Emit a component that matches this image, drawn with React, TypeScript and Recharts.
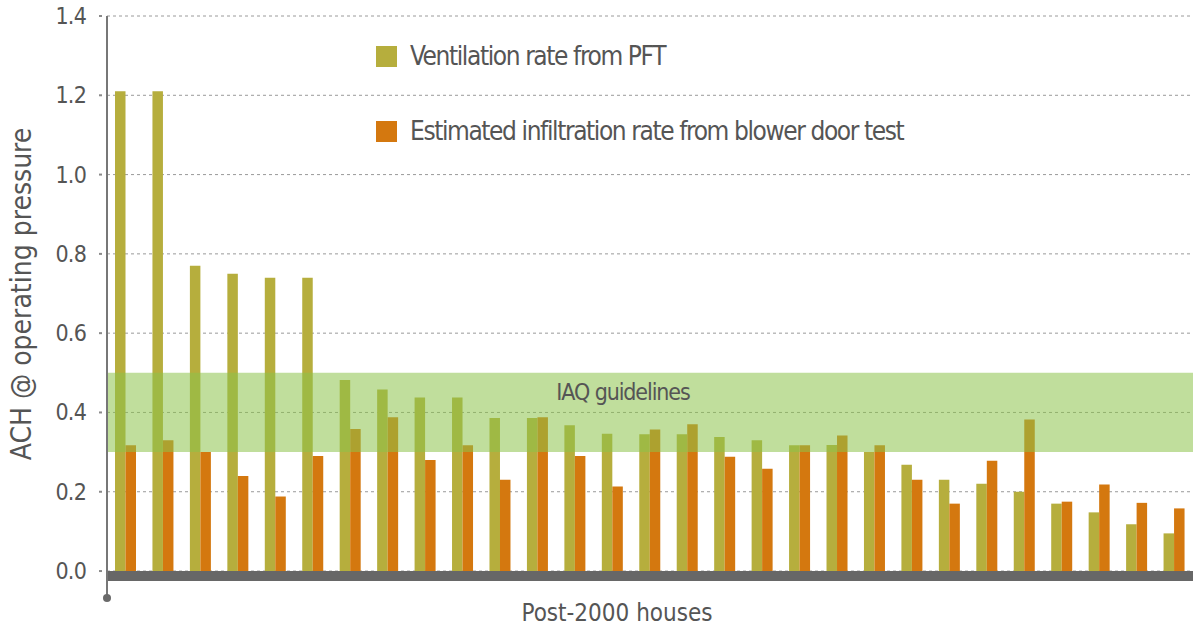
import React from 'react';
import { BarChart, Bar, XAxis, YAxis, CartesianGrid, ReferenceArea, Legend } from 'recharts';

const houses = Array.from({ length: 29 }, (_, i) => `House ${i + 1}`);
const pftVentilation = [1.21, 1.21, 0.77, 0.75, 0.74, 0.74, 0.482, 0.458, 0.438, 0.438, 0.386, 0.386, 0.368, 0.346, 0.345, 0.345, 0.338, 0.33, 0.317, 0.318, 0.3, 0.268, 0.23, 0.22, 0.2, 0.17, 0.148, 0.118, 0.095];
const blowerDoorInfiltration = [0.317, 0.33, 0.3, 0.24, 0.188, 0.29, 0.358, 0.388, 0.28, 0.317, 0.23, 0.388, 0.29, 0.213, 0.357, 0.37, 0.288, 0.258, 0.317, 0.342, 0.317, 0.23, 0.17, 0.278, 0.382, 0.175, 0.218, 0.172, 0.158];
const yTicks = [0, 0.2, 0.4, 0.6, 0.8, 1.0, 1.2, 1.4];
const iaqLow = 0.3;
const iaqHigh = 0.5;
const seriesOrder = ['pft', 'blower'];

const data = houses.map((h, i) => ({ house: h, pft: pftVentilation[i], blower: blowerDoorInfiltration[i] }));

const FONT = "'DejaVu Sans', sans-serif";
const TXT_STYLE: React.CSSProperties = { fontFamily: FONT, fontStretch: 'condensed' };
const GREEN = '#b6ae3d';
const ORANGE = '#d4780f';
const TEXT = '#555555';

const YTick = (props: any) => {
  const { x, y, payload } = props;
  return (
    <g>
      <line x1={x - 8} x2={x - 5} y1={y} y2={y} stroke="#8a8a8a" strokeWidth={2} />
      <text x={x - 21} y={y} dy={8} textAnchor="end" fill={TEXT} fontSize={23} letterSpacing={-0.8} style={TXT_STYLE}>
        {Number(payload.value).toFixed(1)}
      </text>
    </g>
  );
};

const YLabel = (props: any) => {
  const vb = props.viewBox || {};
  const cx = 21;
  const cy = 294;
  return (
    <g>
      <circle cx={vb.x + vb.width} cy={vb.y + vb.height} r={4} fill="#6a6a6a" />
      <text x={cx} y={cy} transform={`rotate(-90 ${cx} ${cy})`} textAnchor="middle" dominantBaseline="central" fill={TEXT} fontSize={28} style={TXT_STYLE}>
        ACH @ operating pressure
      </text>
    </g>
  );
};

const XLabel = (props: any) => {
  const vb = props.viewBox || {};
  return (
    <text x={vb.x + vb.width / 2 - 33} y={vb.y + 15} textAnchor="middle" dominantBaseline="central" fill={TEXT} fontSize={24} style={TXT_STYLE}>
      Post-2000 houses
    </text>
  );
};

const BandLabel = (props: any) => {
  const vb = props.viewBox || {};
  return (
    <text x={vb.x + vb.width / 2 - 27} y={vb.y + 19} textAnchor="middle" dominantBaseline="central" fill={TEXT} fontSize={23} letterSpacing={-1.1} style={TXT_STYLE}>
      IAQ guidelines
    </text>
  );
};

const LegendContent = (props: any) => {
  const payload = [...(props.payload || [])].sort(
    (a: any, b: any) => seriesOrder.indexOf(a.dataKey) - seriesOrder.indexOf(b.dataKey)
  );
  return (
    <div style={TXT_STYLE}>
      {payload.map((p: any, i: number) => (
        <div key={i} style={{ display: 'flex', alignItems: 'center', height: 28, marginBottom: i === 0 ? 47 : 0 }}>
          <div style={{ width: 21, height: 21, background: p.color, marginRight: 13 }} />
          <span style={{ fontSize: 26, color: TEXT, whiteSpace: 'nowrap', letterSpacing: -1.4 }}>{p.value}</span>
        </div>
      ))}
    </div>
  );
};

export default function App() {
  return (
    <div style={{ position: 'absolute', left: 0, top: 0, width: 1200, height: 628, background: '#fff' }}>
      <BarChart width={1200} height={628} data={data} margin={{ top: 16, right: 7, bottom: 0, left: 0 }} barGap={0} barSize={10.5}>
        <CartesianGrid vertical={false} stroke="#9a9a9a" strokeDasharray="3 3" horizontalValues={yTicks} />
        <XAxis dataKey="house" height={30} axisLine={false} tickLine={false} tick={false} label={<XLabel />} />
        <YAxis
          width={107}
          domain={[-0.068, 1.4]}
          ticks={yTicks}
          allowDataOverflow
          tickSize={0}
          tickMargin={0}
          tickLine={false}
          axisLine={{ stroke: '#777777', strokeWidth: 2 }}
          tick={<YTick />}
          label={<YLabel />}
        />
        <Legend layout="horizontal" verticalAlign="middle" align="center" wrapperStyle={{ position: 'absolute', left: 376, top: 42, width: 600 }} content={<LegendContent />} />
        <ReferenceArea y1={-0.025} y2={0} fill="#676767" fillOpacity={1} stroke="none" />
        <Bar dataKey="pft" name="Ventilation rate from PFT" fill={GREEN} isAnimationActive={false} />
        <Bar dataKey="blower" name="Estimated infiltration rate from blower door test" fill={ORANGE} isAnimationActive={false} />
        <ReferenceArea y1={iaqLow} y2={iaqHigh} fill="#8cc34a" fillOpacity={0.55} stroke="none" zIndex={350} label={<BandLabel />} />
      </BarChart>
    </div>
  );
}
